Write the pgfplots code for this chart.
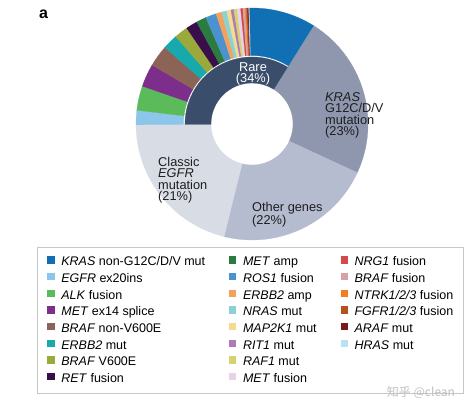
\documentclass[border=0pt]{standalone}
\usepackage{fontspec}
\setmainfont{Liberation Sans}
\newfontfamily\cjk{Noto Sans CJK SC}
\usepackage{pgfplots}
\usepackage{pgfplotstable}
\pgfplotsset{compat=1.18}

\definecolor{rare}{HTML}{3A4D6A}
\definecolor{krasg}{HTML}{8E97AE}
\definecolor{other}{HTML}{B5BCCF}
\definecolor{classic}{HTML}{D8DCE5}
\definecolor{krasnon}{HTML}{1170B4}
\definecolor{ex20}{HTML}{8CC6EA}
\definecolor{alk}{HTML}{5BBA5A}
\definecolor{metex}{HTML}{7D2E8A}
\definecolor{brafnon}{HTML}{8C6457}
\definecolor{erbbmut}{HTML}{17A9AB}
\definecolor{brafv}{HTML}{9BA83A}
\definecolor{ret}{HTML}{3A0E4B}
\definecolor{metamp}{HTML}{2B7A3F}
\definecolor{ros}{HTML}{4C92CE}
\definecolor{erbbamp}{HTML}{F5A05B}
\definecolor{nras}{HTML}{8BD2D6}
\definecolor{mapk}{HTML}{F5DB8D}
\definecolor{rit}{HTML}{B07AB8}
\definecolor{raf}{HTML}{D5D36B}
\definecolor{metfus}{HTML}{E6D3E8}
\definecolor{nrg}{HTML}{D24A4C}
\definecolor{braffus}{HTML}{D5A2A5}
\definecolor{ntrk}{HTML}{F47C21}
\definecolor{fgfr}{HTML}{B5531B}
\definecolor{araf}{HTML}{761A1E}
\definecolor{hras}{HTML}{B9E1F4}
\definecolor{labtxt}{HTML}{1E1E1E}

\colorlet{seg1}{krasg}\colorlet{seg2}{other}\colorlet{seg3}{classic}\colorlet{seg4}{rare}
\colorlet{seg5}{ex20}\colorlet{seg6}{alk}\colorlet{seg7}{metex}\colorlet{seg8}{brafnon}
\colorlet{seg9}{erbbmut}\colorlet{seg10}{brafv}\colorlet{seg11}{ret}\colorlet{seg12}{metamp}
\colorlet{seg13}{ros}\colorlet{seg14}{erbbamp}\colorlet{seg15}{nras}\colorlet{seg16}{mapk}
\colorlet{seg17}{rit}\colorlet{seg18}{raf}\colorlet{seg19}{metfus}\colorlet{seg20}{nrg}
\colorlet{seg21}{braffus}\colorlet{seg22}{ntrk}\colorlet{seg23}{fgfr}\colorlet{seg24}{araf}
\colorlet{seg25}{hras}\colorlet{seg26}{krasnon}

% segments: cumulative percent start/end (clockwise), inner/outer radius, colour index
\pgfplotstableread{
cx  cy  ps     pe     rin   rout  ci
252 288 0      23     41    116   1
252 288 23     45     41    116   2
252 288 45     66     41    116   3
252 288 66     100    41    67    4
252 288 66.0   68.0   68.5  116   5
252 288 68.0   71.4   68.5  116   6
252 288 71.4   74.6   68.5  116   7
252 288 74.6   77.6   68.5  116   8
252 288 77.6   79.7   68.5  116   9
252 288 79.7   81.6   68.5  116   10
252 288 81.6   83.2   68.5  116   11
252 288 83.2   84.6   68.5  116   12
252 288 84.6   86.1   68.5  116   13
252 288 86.1   86.9   68.5  116   14
252 288 86.9   87.6   68.5  116   15
252 288 87.6   88.2   68.5  116   16
252 288 88.2   88.6   68.5  116   17
252 288 88.6   89.05  68.5  116   18
252 288 89.05  89.55  68.5  116   19
252 288 89.55  89.85  68.5  116   20
252 288 89.85  90.18  68.5  116   21
252 288 90.18  90.35  68.5  116   22
252 288 90.35  90.52  68.5  116   23
252 288 90.52  90.66  68.5  116   24
252 288 90.66  90.8   68.5  116   25
252 288 90.8   100    68.5  116   26
}\donut

\pgfdeclareplotmark{nothing}{}
\pgfplotsset{sq/.style={legend image code/.code={\path[##1, draw=none] (0bp,-1.5bp) rectangle (7.3bp,5.8bp);}}}

\begin{document}
\begin{tikzpicture}
\useasboundingbox (0,0) rectangle (474bp,412bp);
\begin{axis}[
  scale only axis, width=474bp, height=412bp,
  xmin=0, xmax=474, ymin=0, ymax=412,
  hide axis, clip=false,
  legend style={
    at={(0.07806,0.40049)}, anchor=north west,
    draw=black!22, line width=0.9bp, fill=white,
    inner xsep=10bp, inner ysep=7.4bp,
    font=\fontsize{12.5bp}{15bp}\selectfont,
    nodes={inner sep=0pt, text height=11bp, text depth=3.5bp},
    row sep=2.17bp,
    /tikz/every odd column/.append style={column sep=6.6bp},
    /tikz/every even column/.append style={column sep=24bp},
  },
  legend cell align=left,
  legend columns=3,
]
\addplot[forget plot, only marks, mark=nothing, scatter,
  visualization depends on={\thisrow{ps} \as \ps},
  visualization depends on={\thisrow{pe} \as \pe},
  visualization depends on={\thisrow{rin} \as \rin},
  visualization depends on={\thisrow{rout} \as \rout},
  visualization depends on={\thisrow{ci} \as \ci},
  scatter/@pre marker code/.code={%
    \pgfmathsetmacro\aS{58-3.6*\ps}%
    \pgfmathsetmacro\aE{58-3.6*\pe}%
    \pgfmathsetmacro\rI{\rin}%
    \pgfmathsetmacro\rO{\rout}%
    \pgfmathtruncatemacro\cidx{\ci}%
    \filldraw[fill=seg\cidx, draw=seg\cidx, line width=0.25bp]
      (\aS:\rI bp) arc[start angle=\aS, end angle=\aE, radius=\rI bp]
      -- (\aE:\rO bp) arc[start angle=\aE, end angle=\aS, radius=\rO bp] -- cycle;
  },
  scatter/@post marker code/.code={},
] table[x=cx, y=cy] \donut;

% row 1
\addlegendimage{sq, fill=krasnon}\addlegendentry{\textit{KRAS} non-G12C/D/V mut}
\addlegendimage{sq, fill=metamp}\addlegendentry{\textit{MET} amp}
\addlegendimage{sq, fill=nrg}\addlegendentry{\textit{NRG1} fusion}
% row 2
\addlegendimage{sq, fill=ex20}\addlegendentry{\textit{EGFR} ex20ins}
\addlegendimage{sq, fill=ros}\addlegendentry{\textit{ROS1} fusion}
\addlegendimage{sq, fill=braffus}\addlegendentry{\textit{BRAF} fusion}
% row 3
\addlegendimage{sq, fill=alk}\addlegendentry{\textit{ALK} fusion}
\addlegendimage{sq, fill=erbbamp}\addlegendentry{\textit{ERBB2} amp}
\addlegendimage{sq, fill=ntrk}\addlegendentry{\textit{NTRK1/2/3} fusion}
% row 4
\addlegendimage{sq, fill=metex}\addlegendentry{\textit{MET} ex14 splice}
\addlegendimage{sq, fill=nras}\addlegendentry{\textit{NRAS} mut}
\addlegendimage{sq, fill=fgfr}\addlegendentry{\textit{FGFR1/2/3} fusion}
% row 5
\addlegendimage{sq, fill=brafnon}\addlegendentry{\textit{BRAF} non-V600E}
\addlegendimage{sq, fill=mapk}\addlegendentry{\textit{MAP2K1} mut}
\addlegendimage{sq, fill=araf}\addlegendentry{\textit{ARAF} mut}
% row 6
\addlegendimage{sq, fill=erbbmut}\addlegendentry{\textit{ERBB2} mut}
\addlegendimage{sq, fill=rit}\addlegendentry{\textit{RIT1} mut}
\addlegendimage{sq, fill=hras}\addlegendentry{\textit{HRAS} mut}
% row 7
\addlegendimage{sq, fill=brafv}\addlegendentry{\textit{BRAF} V600E}
\addlegendimage{sq, fill=raf}\addlegendentry{\textit{RAF1} mut}
\addlegendimage{empty legend}\addlegendentry{}
% row 8
\addlegendimage{sq, fill=ret}\addlegendentry{\textit{RET} fusion}
\addlegendimage{sq, fill=metfus}\addlegendentry{\textit{MET} fusion}
\end{axis}

\node[anchor=north, inner sep=0pt, align=center, text=white,
  font=\fontsize{12.8bp}{10.5bp}\selectfont] at (253bp,349.5bp) {Rare\\(34\%)};
\node[anchor=north west, inner sep=0pt, align=left, text=labtxt,
  font=\fontsize{12.8bp}{11.2bp}\selectfont] at (325bp,319.5bp)
  {\textit{KRAS}\\G12C/D/V\\mutation\\(23\%)};
\node[anchor=north west, inner sep=0pt, align=left, text=labtxt,
  font=\fontsize{12.8bp}{11.2bp}\selectfont] at (158bp,254.7bp)
  {Classic\\\textit{EGFR}\\mutation\\(21\%)};
\node[anchor=north west, inner sep=0pt, align=left, text=labtxt,
  font=\fontsize{12.8bp}{11.2bp}\selectfont] at (252bp,209.7bp)
  {Other genes\\(22\%)};
\node[anchor=base west, inner sep=0pt, font=\fontsize{16bp}{16bp}\selectfont\bfseries]
  at (39bp,393.7bp) {a};
\node[anchor=base, inner sep=0pt, text=black!25, font=\cjk\fontsize{12bp}{12bp}\selectfont]
  at (421bp,16bp) {知乎 @clean};
\end{tikzpicture}
\end{document}
